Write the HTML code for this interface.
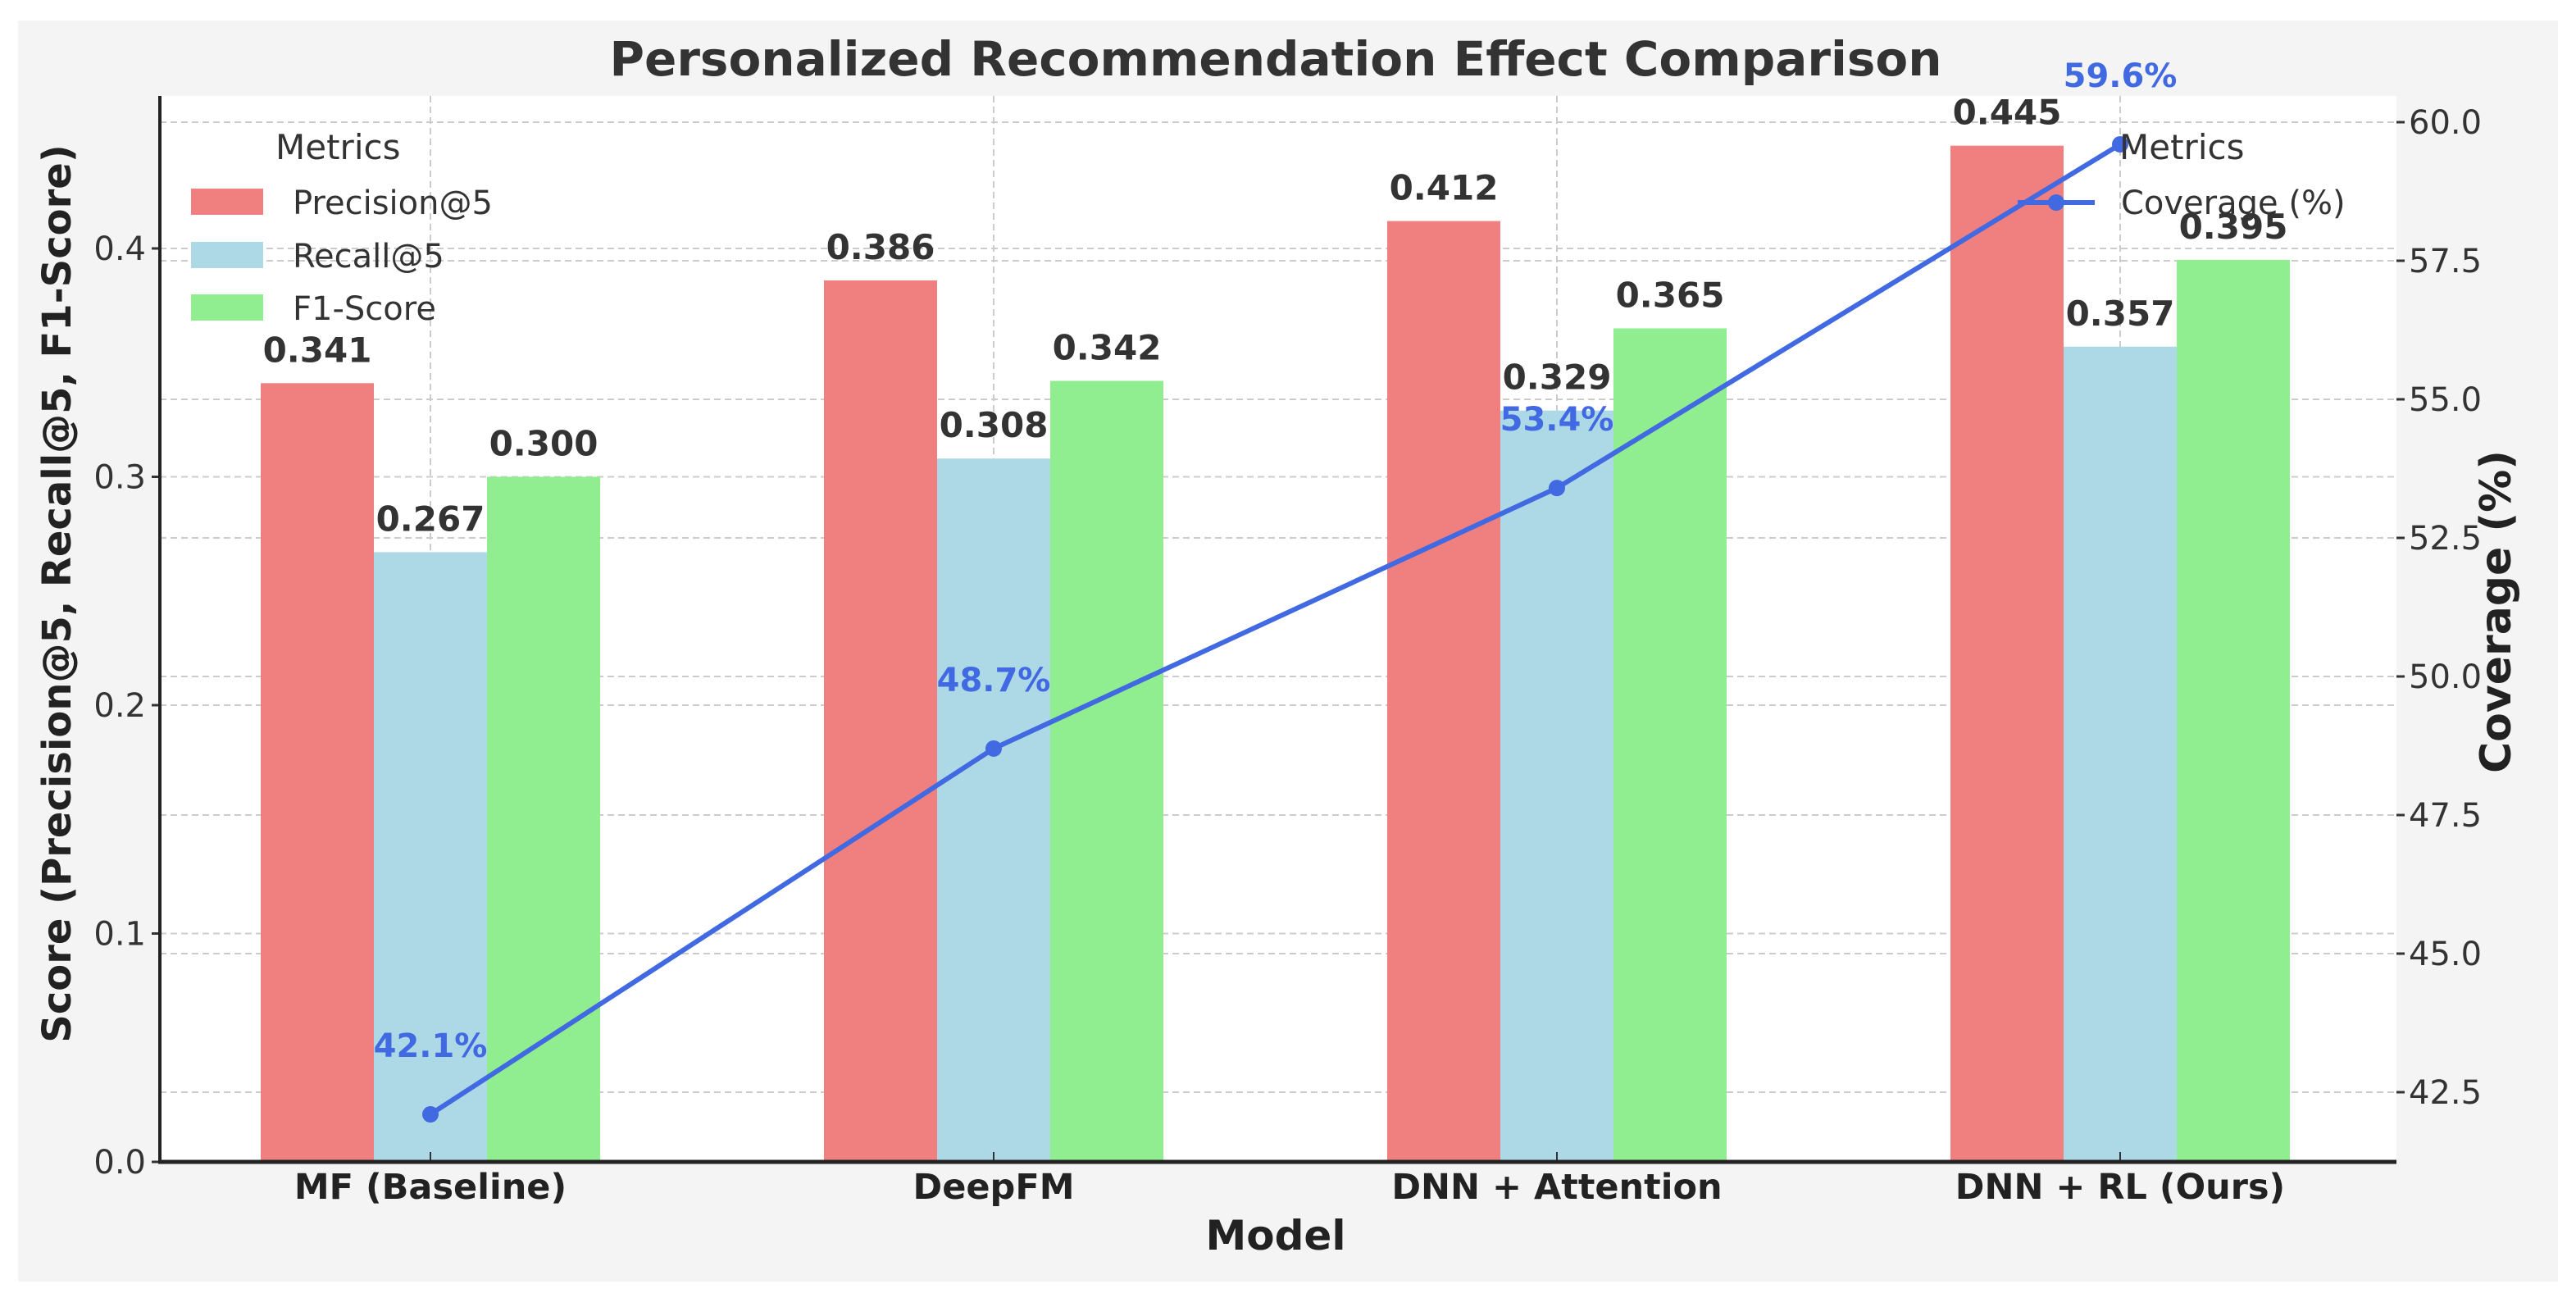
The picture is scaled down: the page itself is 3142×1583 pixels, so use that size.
<!DOCTYPE html>
<html><head><meta charset="utf-8">
<style>
html,body{margin:0;padding:0;background:#fff;}
svg{display:block;font-family:"DejaVu Sans","Liberation Sans",sans-serif;}
</style></head>
<body>
<svg id="chart" width="3142" height="1583" viewBox="0 0 3142 1583" xmlns="http://www.w3.org/2000/svg">
<rect x="22" y="25" width="3098" height="1538" fill="#f4f4f4"/>
<rect x="195" y="117" width="2728" height="1300" fill="#ffffff"/>
<g id="grid"></g>
<g id="bars"></g>
<g id="line"></g>
<g id="axes"></g>
<text x="1556" y="92" text-anchor="middle" font-size="58" font-weight="bold" fill="#333">Personalized Recommendation Effect Comparison</text>
<text x="1556" y="1524" text-anchor="middle" font-size="50" font-weight="bold" fill="#222">Model</text>
<text transform="translate(86,724) rotate(-90)" text-anchor="middle" font-size="48" font-weight="bold" fill="#222">Score (Precision@5, Recall@5, F1-Score)</text>
<text transform="translate(3062,746) rotate(-90)" text-anchor="middle" font-size="52" font-weight="bold" fill="#222">Coverage (%)</text>
<g>
<text x="336" y="194" font-size="42" fill="#333">Metrics</text>
<rect x="233" y="230" width="88" height="32" fill="#f08080"/>
<text x="357" y="261" font-size="40" fill="#333">Precision@5</text>
<rect x="233" y="295" width="88" height="32" fill="#add8e6"/>
<text x="357" y="326" font-size="40" fill="#333">Recall@5</text>
<rect x="233" y="359" width="88" height="32" fill="#90ee90"/>
<text x="357" y="390" font-size="40" fill="#333">F1-Score</text>
</g>
<g id="lineLegend">
<text x="2585" y="194" font-size="42" fill="#333">Metrics</text>
<line x1="2461" y1="247" x2="2555" y2="247" stroke="#4169e1" stroke-width="6"/>
<circle cx="2508" cy="247" r="10" fill="#4169e1"/>
<text x="2587" y="261" font-size="40" fill="#333">Coverage (%)</text>
</g>
</svg>
<script>
const categories = ["MF (Baseline)", "DeepFM", "DNN + Attention", "DNN + RL (Ours)"];
const precision = [0.341, 0.386, 0.412, 0.445];
const recall = [0.267, 0.308, 0.329, 0.357];
const f1 = [0.300, 0.342, 0.365, 0.395];
const coverage = [42.1, 48.7, 53.4, 59.6];
const leftTicks = [0.0, 0.1, 0.2, 0.3, 0.4];
const rightTicks = [42.5, 45.0, 47.5, 50.0, 52.5, 55.0, 57.5, 60.0];

const NS = "http://www.w3.org/2000/svg";
const PL = 195, PR = 2923, PT = 117, PB = 1417;
const xC = i => 525 + i * 687;
const yL = v => PB - v * 2785;
const yR = v => 149 + (60 - v) * 67.6;
const BW = 138;
function mk(tag, attrs, parent) {
  const e = document.createElementNS(NS, tag);
  for (const k in attrs) e.setAttribute(k, attrs[k]);
  parent.appendChild(e);
  return e;
}
const grid = document.getElementById('grid');
const bars = document.getElementById('bars');
const lineG = document.getElementById('line');
const axes = document.getElementById('axes');
const gridStyle = {stroke: '#cccccc', 'stroke-width': 2, 'stroke-dasharray': '8,5'};

leftTicks.forEach(t => {
  const y = yL(t);
  if (t > 0) {
    const g = mk('line', Object.assign({x1: PL, x2: PR, y1: y, y2: y}, gridStyle), grid);
    
    
  }
  const tk = mk('line', {x1: PL - 10, x2: PL, y1: y, y2: y, stroke: '#333', 'stroke-width': 3}, axes);
  
  
  const tx = mk('text', {x: 178, y: y + 14, 'text-anchor': 'end', 'font-size': 40, fill: '#333'}, axes);
  tx.textContent = t.toFixed(1);
  
  
});
rightTicks.forEach(t => {
  const y = yR(t);
  const g = mk('line', Object.assign({x1: PL, x2: PR, y1: y, y2: y}, gridStyle), grid);
  
  
  const tk = mk('line', {x1: PR, x2: PR + 10, y1: y, y2: y, stroke: '#333', 'stroke-width': 3}, axes);
  
  
  const tx = mk('text', {x: 2938, y: y + 14, 'font-size': 40, fill: '#333'}, axes);
  tx.textContent = t.toFixed(1);
  
  
});
categories.forEach((c, i) => {
  const x = xC(i);
  const g = mk('line', Object.assign({x1: x, x2: x, y1: PT, y2: PB}, gridStyle), grid);
  
  
  const tk = mk('line', {x1: x, x2: x, y1: PB - 12, y2: PB, stroke: '#333', 'stroke-width': 2}, axes);
  
  
  const tx = mk('text', {x: x, y: 1462, 'text-anchor': 'middle', 'font-size': 43, 'font-weight': 'bold', fill: '#222'}, axes);
  tx.textContent = c;
  
  
});

const series = [[precision, '#f08080', 'precision'], [recall, '#add8e6', 'recall'], [f1, '#90ee90', 'f1']];
series.forEach((s, si) => {
  s[0].forEach((v, i) => {
    const cx = xC(i) + (si - 1) * BW;
    const r = mk('rect', {x: cx - BW / 2, y: yL(v), width: BW, height: PB - yL(v), fill: s[1]}, bars);
    
    
    const t = mk('text', {x: cx, y: yL(v) - 26, 'text-anchor': 'middle', 'font-size': 42, 'font-weight': 'bold', fill: '#333'}, bars);
    t.textContent = v.toFixed(3);
    
    
  });
});

const pts = coverage.map((v, i) => xC(i) + ',' + yR(v)).join(' ');
const pl = mk('polyline', {points: pts, fill: 'none', stroke: '#4169e1', 'stroke-width': 6}, lineG);


coverage.forEach((v, i) => {
  const c = mk('circle', {cx: xC(i), cy: yR(v), r: 10, fill: '#4169e1'}, lineG);
  
  
  const t = mk('text', {x: xC(i), y: yR(v) - 70, 'text-anchor': 'middle', 'font-size': 40, 'font-weight': 'bold', fill: '#4169e1'}, lineG);
  t.textContent = v.toFixed(1) + '%';
  
  
});

const ls = mk('line', {x1: PL, x2: PL, y1: PT, y2: PB + 2, stroke: '#222', 'stroke-width': 4}, axes);


const bs = mk('line', {x1: PL - 2, x2: PR, y1: PB, y2: PB, stroke: '#222', 'stroke-width': 5}, axes);


</script>
</body></html>
